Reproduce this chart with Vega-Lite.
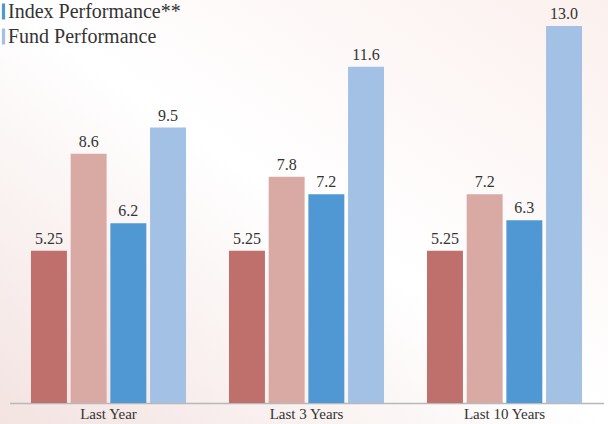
{
  "$schema": "https://vega.github.io/schema/vega-lite/v6.json",
  "width": 608,
  "height": 424,
  "autosize": {"type": "none"},
  "padding": 0,
  "background": "#ffffff",
  "config": {
    "view": {
      "stroke": null,
      "fill": {
        "gradient": "linear",
        "x1": 0, "y1": 1, "x2": 1, "y2": 0,
        "stops": [
          {"offset": 0, "color": "#f3e3e1"},
          {"offset": 0.5, "color": "#ffffff"},
          {"offset": 1, "color": "#fbf0ee"}
        ]
      }
    },
    "font": "Liberation Serif",
    "axis": {"labelFont": "Liberation Serif"},
    "legend": {"labelFont": "Liberation Serif"}
  },
  "data": {
    "values": [
      {"period": "Last Year", "series": "Target Return", "value": 5.25, "label": "5.25"},
      {"period": "Last Year", "series": "Benchmark Return*", "value": 8.6, "label": "8.6"},
      {"period": "Last Year", "series": "Index Performance**", "value": 6.2, "label": "6.2"},
      {"period": "Last Year", "series": "Fund Performance", "value": 9.5, "label": "9.5"},
      {"period": "Last 3 Years", "series": "Target Return", "value": 5.25, "label": "5.25"},
      {"period": "Last 3 Years", "series": "Benchmark Return*", "value": 7.8, "label": "7.8"},
      {"period": "Last 3 Years", "series": "Index Performance**", "value": 7.2, "label": "7.2"},
      {"period": "Last 3 Years", "series": "Fund Performance", "value": 11.6, "label": "11.6"},
      {"period": "Last 10 Years", "series": "Target Return", "value": 5.25, "label": "5.25"},
      {"period": "Last 10 Years", "series": "Benchmark Return*", "value": 7.2, "label": "7.2"},
      {"period": "Last 10 Years", "series": "Index Performance**", "value": 6.3, "label": "6.3"},
      {"period": "Last 10 Years", "series": "Fund Performance", "value": 13.0, "label": "13.0"}
    ]
  },
  "encoding": {
    "x": {
      "field": "period",
      "type": "nominal",
      "sort": ["Last Year", "Last 3 Years", "Last 10 Years"],
      "scale": {"paddingInner": 0.217, "paddingOuter": 0.1085, "range": [9.5, 603.5]},
      "axis": {
        "title": null,
        "labelAngle": 0,
        "labelFontSize": 15,
        "labelColor": "#333333",
        "labelPadding": 3,
        "offset": -21,
        "ticks": false,
        "domainColor": "#b8b8b8",
        "domainWidth": 1.5,
        "grid": false
      }
    },
    "xOffset": {
      "field": "series",
      "type": "nominal",
      "sort": ["Target Return", "Benchmark Return*", "Index Performance**", "Fund Performance"],
      "scale": {"paddingInner": 0.094, "paddingOuter": 0}
    },
    "y": {
      "field": "value",
      "type": "quantitative",
      "scale": {"domain": [0, 13.9], "nice": false, "range": [403, 0]},
      "axis": null
    }
  },
  "layer": [
    {
      "mark": {"type": "bar"},
      "encoding": {
        "color": {
          "field": "series",
          "type": "nominal",
          "sort": ["Target Return", "Benchmark Return*", "Index Performance**", "Fund Performance"],
          "scale": {
            "domain": ["Target Return", "Benchmark Return*", "Index Performance**", "Fund Performance"],
            "range": ["#c0706c", "#d9aaa4", "#5098d4", "#a3c1e4"]
          },
          "legend": {
            "values": ["Index Performance**", "Fund Performance"],
            "title": null,
            "orient": "none",
            "legendX": -6.5,
            "legendY": 1.5,
            "padding": 0,
            "symbolType": "M-0.2,-1 h0.4 v2 h-0.4 Z",
            "symbolSize": 256,
            "symbolStrokeWidth": 0,
            "symbolOpacity": 1,
            "labelFontSize": 20,
            "labelColor": "#333333",
            "labelOffset": -5.5,
            "labelLimit": 400,
            "rowPadding": 5
          }
        }
      }
    },
    {
      "mark": {"type": "text", "baseline": "alphabetic", "dy": -7, "fontSize": 16, "color": "#333333"},
      "encoding": {
        "text": {"field": "label"}
      }
    }
  ]
}
